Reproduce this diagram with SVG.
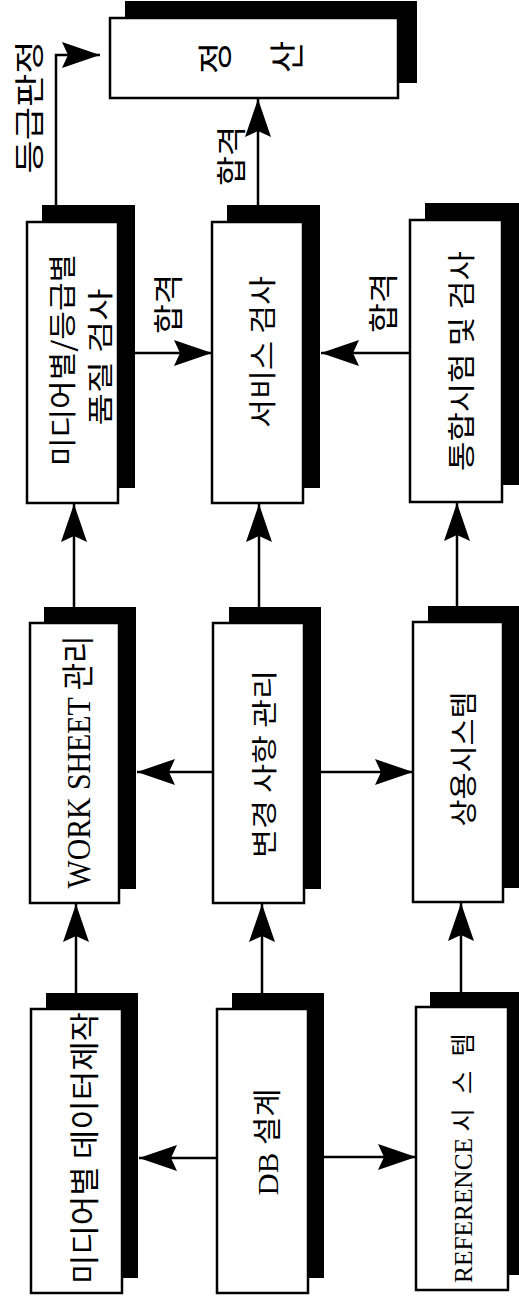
<svg xmlns="http://www.w3.org/2000/svg" width="519" height="1296" viewBox="0 0 519 1296">
<style>
.box{fill:#fff;stroke:#000;stroke-width:2.5}
.sh{fill:#000}
.k{font-family:"Noto Sans CJK KR","Noto Sans CJK SC",sans-serif;fill:#000;text-anchor:middle;dominant-baseline:central}
.m{font-family:"Liberation Serif","Noto Sans CJK KR",serif;fill:#000;text-anchor:middle;dominant-baseline:central}
.edge{fill:none;stroke:#000;stroke-width:2.5;marker-end:url(#ah)}
</style>
<defs>
<marker id="ah" markerUnits="userSpaceOnUse" viewBox="0 0 38 26" markerWidth="38" markerHeight="26" refX="38" refY="13" orient="auto">
<path d="M0,0 L38,13 L0,26 L6,13 Z" fill="#000"/>
</marker>
</defs>
<rect width="519" height="1296" fill="#fff"/>

<g id="edges">
<path class="edge" d="M56,205 V55 H100"/>
<path class="edge" d="M258,205 V99"/>
<path class="edge" d="M135,353 H212"/>
<path class="edge" d="M410,353 H321"/>
<path class="edge" d="M74,607 V504"/>
<path class="edge" d="M259,607 V504"/>
<path class="edge" d="M457,606 V503"/>
<path class="edge" d="M213,772 H137"/>
<path class="edge" d="M321,772 H413"/>
<path class="edge" d="M76,993 V904"/>
<path class="edge" d="M262,993 V904"/>
<path class="edge" d="M461,992 V903"/>
<path class="edge" d="M217,1158 H139"/>
<path class="edge" d="M324,1157 H416"/>
</g>

<g id="labels">
<text class="k" font-size="30" textLength="133" lengthAdjust="spacingAndGlyphs" transform="translate(27,107) rotate(-90)">등급판정</text>
<text class="k" font-size="30" textLength="60" lengthAdjust="spacingAndGlyphs" transform="translate(166,304) rotate(-90)">합격</text>
<text class="k" font-size="30" textLength="60" lengthAdjust="spacingAndGlyphs" transform="translate(381,303) rotate(-90)">합격</text>
<text class="k" font-size="30" textLength="60" lengthAdjust="spacingAndGlyphs" transform="translate(229,156) rotate(-90)">합격</text>
</g>

<g id="n-jeongsan">
<rect class="sh" x="125" y="1" width="292" height="82"/>
<rect class="box" x="110" y="18" width="288" height="80"/>
<text class="k" font-size="35" transform="translate(212,58) rotate(-90)">정</text>
<text class="k" font-size="35" transform="translate(284,57) rotate(-90)">산</text>
</g>

<g id="n-quality">
<rect class="sh" x="42" y="205" width="93" height="283"/>
<rect class="box" x="27" y="222" width="91" height="281"/>
<text class="k" font-size="28" textLength="212" lengthAdjust="spacingAndGlyphs" transform="translate(61,360) rotate(-90)">미디어별/등급별</text>
<text class="k" font-size="26" textLength="137" lengthAdjust="spacingAndGlyphs" transform="translate(98,357) rotate(-90)">품질 검사</text>
</g>

<g id="n-service">
<rect class="sh" x="227" y="205" width="93" height="283"/>
<rect class="box" x="212" y="222" width="91" height="281"/>
<text class="k" font-size="28" textLength="152" lengthAdjust="spacingAndGlyphs" transform="translate(261,352) rotate(-90)">서비스 검사</text>
</g>

<g id="n-integration">
<rect class="sh" x="425" y="203" width="95" height="282"/>
<rect class="box" x="410" y="220" width="92" height="282"/>
<text class="k" font-size="28" textLength="220" lengthAdjust="spacingAndGlyphs" transform="translate(460,361) rotate(-90)">통합시험 및 검사</text>
</g>

<g id="n-worksheet">
<rect class="sh" x="44" y="607" width="92" height="282"/>
<rect class="box" x="30" y="623" width="89" height="280"/>
<text class="m" font-size="33" textLength="253" lengthAdjust="spacingAndGlyphs" transform="translate(79,762) rotate(-90)">WORK SHEET 관리</text>
</g>

<g id="n-change">
<rect class="sh" x="229" y="607" width="92" height="282"/>
<rect class="box" x="213" y="623" width="91" height="280"/>
<text class="k" font-size="26" textLength="188" lengthAdjust="spacingAndGlyphs" transform="translate(262,764) rotate(-90)">변경 사항 관리</text>
</g>

<g id="n-commercial">
<rect class="sh" x="428" y="606" width="92" height="282"/>
<rect class="box" x="413" y="622" width="90" height="280"/>
<text class="k" font-size="28" textLength="135" lengthAdjust="spacingAndGlyphs" transform="translate(462,759) rotate(-90)">상용시스템</text>
</g>

<g id="n-mediadata">
<rect class="sh" x="46" y="993" width="92" height="285"/>
<rect class="box" x="31" y="1009" width="91" height="284"/>
<text class="k" font-size="30" textLength="272" lengthAdjust="spacingAndGlyphs" transform="translate(82,1148) rotate(-90)">미디어별 데이터제작</text>
</g>

<g id="n-db">
<rect class="sh" x="232" y="993" width="92" height="285"/>
<rect class="box" x="217" y="1009" width="91" height="284"/>
<text class="m" font-size="29" textLength="107" lengthAdjust="spacingAndGlyphs" transform="translate(268,1142) rotate(-90)">DB 설계</text>
</g>

<g id="n-reference">
<rect class="sh" x="430" y="992" width="90" height="283"/>
<rect class="box" x="416" y="1007" width="92" height="283"/>
<text class="m" font-size="25" textLength="264" lengthAdjust="spacingAndGlyphs" transform="translate(463,1151) rotate(-90)">REFERENCE <tspan letter-spacing="14">시스템</tspan></text>
</g>
</svg>
